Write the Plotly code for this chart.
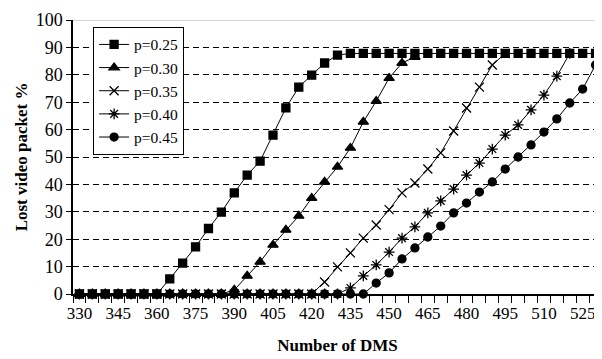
import plotly.graph_objects as go

# ---------------- data ----------------
dms = list(range(330, 535, 5))  # 330 .. 530

p25 = [0, 0, 0, 0, 0, 0, 0,
       5.5, 11.3, 17.2, 23.9, 29.9, 36.9, 43.4, 48.5, 58.0, 67.9, 75.5, 79.9, 84.3, 87.2,
       87.8, 87.8, 87.8, 87.8, 87.8, 87.8, 87.8, 87.8, 87.8, 87.8,
       87.8, 87.8, 87.8, 87.8, 87.8, 87.8, 87.8, 87.8, 87.8, 87.8]
p30 = [0] * 12 + [1.5, 6.6, 11.7, 17.9, 23.4, 28.5, 35.0, 40.9, 46.4, 53.3,
                  62.8, 70.4, 78.8, 84.3, 86.5]
p35 = [0] * 19 + [4.4, 9.9, 15.0, 20.4, 25.2, 30.8, 36.9, 40.5, 45.6, 51.5,
                  59.5, 67.9, 75.5, 83.6, 87.8]
p40 = [0] * 21 + [2.2, 6.6, 10.6, 15.3, 20.4, 24.5, 29.6, 34.0, 38.3, 43.4,
                  47.8, 52.9, 58.0, 61.7, 67.2, 72.6, 79.5, 87.8]
p45 = [0] * 23 + [4.0, 7.7, 12.8, 16.8, 20.8, 24.8, 29.6, 33.2, 37.2, 40.9,
                  45.6, 50.0, 54.4, 59.1, 63.9, 69.7, 74.8, 83.6]

series_names = ["p=0.25", "p=0.30", "p=0.35", "p=0.40", "p=0.45"]
series_values = [p25, p30, p35, p40, p45]

x_tick_labels = list(range(330, 526, 15))
y_ticks = list(range(0, 101, 10))
y_grid = list(range(10, 100, 10))

# ---------------- styles ----------------
FONT = "Liberation Serif"
symbols = ["square", "triangle-up", "x-thin-open", "asterisk-open", "circle"]
sizes = [8, 9, 9, 9, 8]

fig = go.Figure()
# draw p=0.45 first so the squares sit on top, keep legend order by rank
for i in reversed(range(5)):
    vals = series_values[i]
    fig.add_trace(go.Scatter(
        x=dms[:len(vals)], y=vals, name=series_names[i],
        mode="lines+markers",
        line=dict(color="black", width=1),
        marker=dict(symbol=symbols[i], size=sizes[i], color="black",
                    line=dict(color="black", width=1.3)),
        legendrank=i + 1,
        cliponaxis=False,
    ))

boundaries = [v - 2.5 for v in dms]

# page body has an 8px default margin: figure sized to fit the 602x359 window
fig.update_layout(
    width=594, height=351,
    margin=dict(l=65, r=0, t=12, b=65),
    paper_bgcolor="white", plot_bgcolor="white",
    font=dict(family=FONT, color="black", size=17),
    showlegend=True,
    legend=dict(x=0.038, y=0.975, xanchor="left", yanchor="top",
                bgcolor="white", bordercolor="black", borderwidth=1,
                font=dict(family=FONT, size=15.5), tracegroupgap=0,
                itemwidth=30),
    xaxis=dict(
        automargin=False,
        range=[dms[0] - 2.5, dms[-1] + 2.5],
        tickmode="array", tickvals=x_tick_labels,
        ticktext=[str(v) for v in x_tick_labels],
        ticks="outside", ticklen=3, tickcolor="rgba(0,0,0,0)",
        showline=True, linecolor="black", linewidth=1.5,
        showgrid=False, zeroline=False,
        tickfont=dict(family=FONT, size=17),
        minor=dict(tickmode="array", tickvals=boundaries, ticks="outside",
                   ticklen=7, tickcolor="black", tickwidth=1, showgrid=False),
        title=dict(text="<b>Number of DMS</b>", font=dict(family=FONT, size=17),
                   standoff=17),
    ),
    yaxis=dict(
        automargin=False,
        range=[0, 100],
        tickmode="array", tickvals=y_ticks,
        ticks="outside", ticklen=5, tickcolor="black", tickwidth=1,
        showline=True, linecolor="black", linewidth=1.5,
        showgrid=False, zeroline=False,
        tickfont=dict(family=FONT, size=18),
        minor=dict(tickmode="array", tickvals=y_grid, ticks="",
                   showgrid=True, gridcolor="black", gridwidth=1,
                   griddash="6px,4px"),
        title=dict(text="<b>Lost video packet %</b>", font=dict(family=FONT, size=17),
                   standoff=4),
    ),
    shapes=[dict(type="line", xref="paper", x0=0, x1=1, yref="y", y0=100, y1=100,
                 line=dict(color="#aaaaaa", width=1), layer="below")],
)

fig.write_html("out.html")
